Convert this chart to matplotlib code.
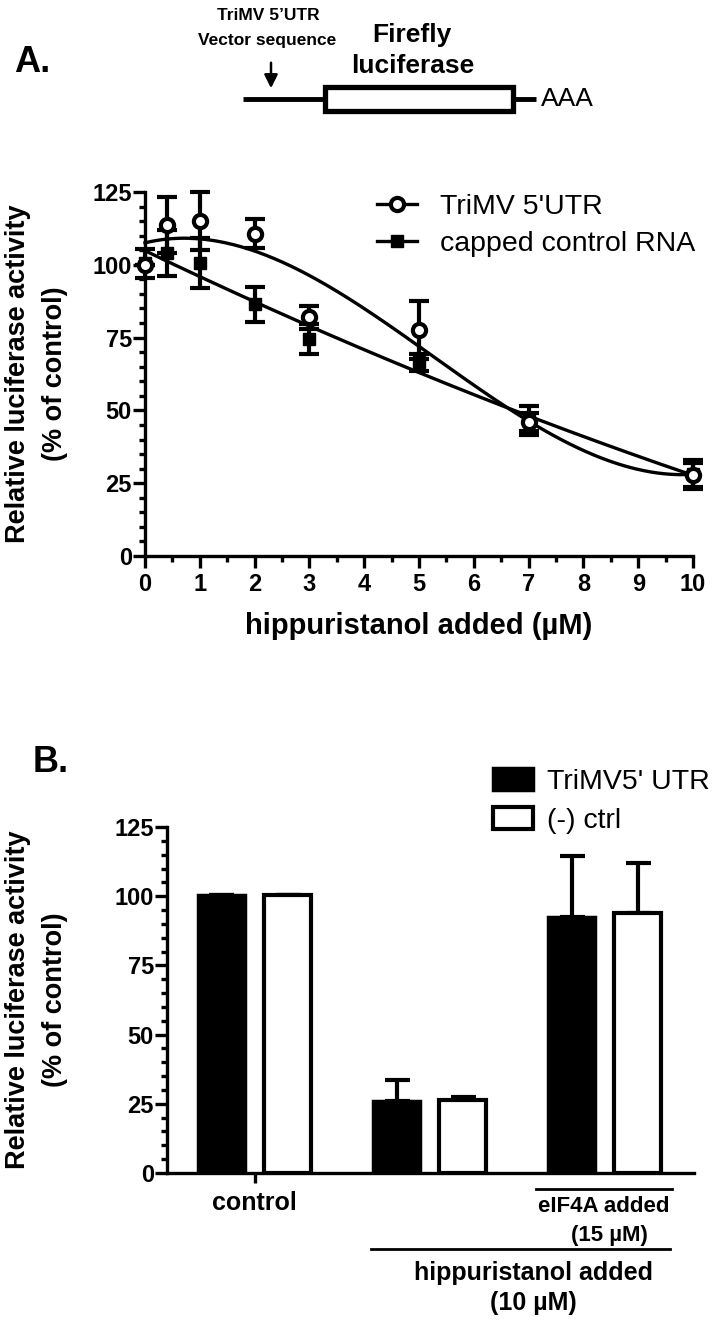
import numpy as np
import matplotlib
matplotlib.use('Agg')
import matplotlib.pyplot as plt
from matplotlib.patches import Rectangle

plt.rcParams['font.family'] = ['Liberation Sans', 'DejaVu Sans']

# ---- panel A data ----
dose_um = [0, 0.4, 1, 2, 3, 5, 7, 10]
trimv_mean = [100, 113.7, 115, 110.6, 82, 77.6, 46, 27.8]
trimv_err = [0, 9.5, 10, 5, 4, 10, 3, 4]
capped_mean = [100.5, 104, 100.6, 86.5, 74.5, 66.5, 46.5, 28]
capped_err = [5, 8, 8.5, 6, 5, 3, 5, 5]

# ---- panel B data ----
groups = ['control', 'hipp', 'hipp_eif4a']
trimv_bar = [100.3, 26.1, 92.6]
trimv_bar_err = [0, 7.5, 22]
ctrl_bar = [100.3, 26.3, 93.8]
ctrl_bar_err = [0, 1.0, 18.3]

W, H = 714, 1323
fig = plt.figure(figsize=(W / 100, H / 100), dpi=100)


def px_axes(x0, y0, x1, y1):
    """axes rect from pixel corners (top-left origin)"""
    return [x0 / W, 1 - y1 / H, (x1 - x0) / W, (y1 - y0) / H]


def style_axis(ax, ymax):
    for s in ['top', 'right']:
        ax.spines[s].set_visible(False)
    for s in ['left', 'bottom']:
        ax.spines[s].set_linewidth(2.4)
    ax.set_ylim(0, ymax)
    ax.set_yticks([0, 25, 50, 75, 100, 125])
    ax.set_yticks(np.arange(0, 126, 5), minor=True)
    ax.tick_params(axis='y', which='major', length=8.5, width=2.4, pad=1,
                   labelsize=17)
    ax.tick_params(axis='y', which='minor', length=4.5, width=2.4)
    for t in ax.get_yticklabels():
        t.set_fontweight('bold')


ylab = 'Relative luciferase activity\n(% of control)'

# ---- panel A ----
axA = fig.add_axes(px_axes(145, 192, 693, 556))
style_axis(axA, 125)
axA.set_xlim(0, 10)
axA.set_xticks(np.arange(0, 11, 1))
axA.set_xticks(np.arange(0, 10.1, 0.5), minor=True)
axA.tick_params(axis='x', which='major', length=8.5, width=2.4, pad=4,
                labelsize=17)
axA.tick_params(axis='x', which='minor', length=4.5, width=2.4)
for t in axA.get_xticklabels():
    t.set_fontweight('bold')

xf = np.linspace(0, 10, 200)
fit_t = np.polyval(np.polyfit(dose_um, trimv_mean, 3), xf)
fit_c = np.polyval(np.polyfit(dose_um, capped_mean, 2), xf)
axA.plot(xf, fit_t, color='black', lw=2.4, clip_on=False, zorder=2)
axA.plot(xf, fit_c, color='black', lw=2.4, clip_on=False, zorder=2)

eb = axA.errorbar(dose_um, capped_mean, yerr=capped_err, fmt='s', ms=9,
                  mfc='black', mec='black', color='black', elinewidth=3,
                  capsize=7, capthick=3, clip_on=False, zorder=3)
for a in eb.lines[1] + eb.lines[2]:
    a.set_clip_on(False)
eb2 = axA.errorbar(dose_um, trimv_mean, yerr=trimv_err, fmt='o', ms=9.5,
                   mfc='white', mec='black', mew=3, color='black',
                   elinewidth=3, capsize=7, capthick=3, clip_on=False,
                   zorder=4)
for a in eb2.lines[1] + eb2.lines[2]:
    a.set_clip_on(False)

axA.set_xlabel('hippuristanol added (µM)', fontsize=21, fontweight='bold')
axA.xaxis.set_label_coords(0.5, -0.155)
axA.set_ylabel(ylab, fontsize=19.5, fontweight='bold', linespacing=1.55)
axA.yaxis.set_label_coords(-0.14, 0.5)

h_t = plt.Line2D([], [], color='black', lw=2.4, marker='o', ms=9.5,
                 mfc='white', mec='black', mew=3)
h_c = plt.Line2D([], [], color='black', lw=2.4, marker='s', ms=9,
                 mfc='black', mec='black')
axA.legend([h_t, h_c], ["TriMV 5'UTR", 'capped control RNA'],
           loc='upper left', bbox_to_anchor=(377 / W, 1 - 194 / H),
           bbox_transform=fig.transFigure, frameon=False, fontsize=20.5,
           handlelength=1.4, handletextpad=0.8, labelspacing=0.4,
           borderpad=0, borderaxespad=0)

# ---- panel B ----
axB = fig.add_axes(px_axes(167, 827, 694, 1173))
style_axis(axB, 125)
xpos = np.arange(len(groups))
off, bw = 0.189, 0.27
axB.bar(xpos - off, trimv_bar, bw, color='black', edgecolor='black',
        lw=2.5, zorder=2)
axB.bar(xpos + off, ctrl_bar, bw, color='white', edgecolor='black',
        lw=3, zorder=2)
axB.errorbar(xpos - off, trimv_bar, yerr=[[0] * 3, trimv_bar_err], fmt='none',
             ecolor='black', elinewidth=3, capsize=9, capthick=3, zorder=1)
axB.errorbar(xpos + off, ctrl_bar, yerr=[[0] * 3, ctrl_bar_err], fmt='none',
             ecolor='black', elinewidth=3, capsize=9, capthick=3, zorder=1)
axB.set_xlim(-0.5, 2.51)
axB.set_xticks([0])
axB.set_xticklabels(['control'])
axB.tick_params(axis='x', length=7, width=2.4, pad=6, labelsize=18)
for t in axB.get_xticklabels():
    t.set_fontweight('bold')
axB.set_ylabel(ylab, fontsize=19.5, fontweight='bold', linespacing=1.55)
axB.yaxis.set_label_coords(-0.187, 0.5)

hb1 = Rectangle((0, 0), 1, 1, facecolor='black', edgecolor='black', lw=2.5)
hb2 = Rectangle((0, 0), 1, 1, facecolor='white', edgecolor='black', lw=3)
axB.legend([hb1, hb2], ["TriMV5' UTR", '(-) ctrl'], loc='upper left',
           bbox_to_anchor=(493 / W, 1 - 768 / H),
           bbox_transform=fig.transFigure, frameon=False, fontsize=20.5,
           handlelength=1.4, handleheight=0.8, handletextpad=0.5,
           labelspacing=0.42, borderpad=0, borderaxespad=0)

# ---- overlay in pixel coords: diagram, panel letters, group labels ----
ov = fig.add_axes([0, 0, 1, 1], zorder=-1)
ov.set_xlim(0, W)
ov.set_ylim(H, 0)
ov.axis('off')

ov.text(14, 63, 'A.', fontsize=26, fontweight='bold', va='center')
ov.text(33, 762, 'B.', fontsize=26, fontweight='bold', va='center')

ov.text(268, 15, "TriMV 5\u2019UTR", fontsize=12.5, fontweight='bold',
        ha='center', va='center')
ov.text(267, 41, 'Vector sequence', fontsize=12.5, fontweight='bold',
        ha='center', va='center')
ov.annotate('', xy=(271, 91), xytext=(271, 60),
            arrowprops=dict(arrowstyle='-|>', color='black', lw=1.8,
                            mutation_scale=20))
ov.plot([243, 323], [99, 99], color='black', lw=3.5, solid_capstyle='butt')
ov.plot([515, 536], [99, 99], color='black', lw=3.5, solid_capstyle='butt')
ov.add_patch(Rectangle((325, 87), 188, 24, facecolor='white',
                       edgecolor='black', lw=3.8))
ov.text(412, 35, 'Firefly', fontsize=19, fontweight='bold', ha='center',
        va='center')
ov.text(413, 66, 'luciferase', fontsize=19, fontweight='bold', ha='center',
        va='center')
ov.text(541, 99, 'AAA', fontsize=19, ha='left', va='center')

ov.plot([536, 672], [1189, 1189], color='black', lw=2)
ov.text(604, 1207, 'eIF4A added', fontsize=16, fontweight='bold',
        ha='center', va='center')
ov.text(609, 1235, '(15 µM)', fontsize=16, fontweight='bold',
        ha='center', va='center')
ov.plot([371, 670], [1249, 1249], color='black', lw=2)
ov.text(533, 1273, 'hippuristanol added', fontsize=18, fontweight='bold',
        ha='center', va='center')
ov.text(533, 1303, '(10 µM)', fontsize=18, fontweight='bold',
        ha='center', va='center')

fig.savefig('out.png', dpi=100)
